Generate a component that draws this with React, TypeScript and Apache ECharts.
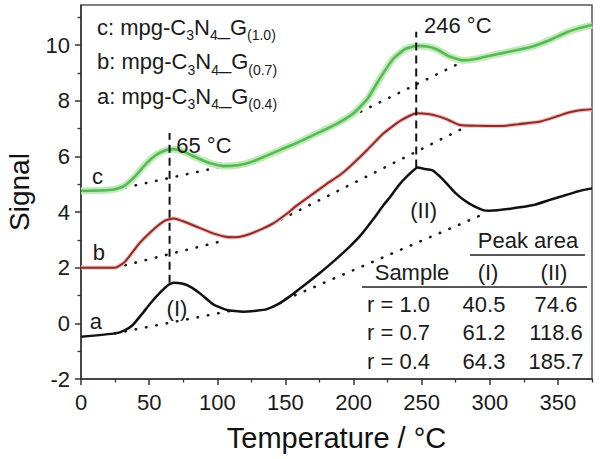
import { useEffect, useRef } from "react"
import * as echarts from "echarts"

const FONT = '"Liberation Sans", Arial, Helvetica, sans-serif'

// axis ticks
const xMajor = [0, 50, 100, 150, 200, 250, 300, 350]
const xMinor = [25, 75, 125, 175, 225, 275, 325, 375]
const yMajor = [-2, 0, 2, 4, 6, 8, 10]
const yMinor = [-1, 1, 3, 5, 7, 9, 11]

// curve a: mpg-C3N4-G(0.4)
const curveA: [number, number][] = [
  [0, -0.48], [25, -0.36], [32, -0.25], [38, -0.06], [45, 0.35], [51, 0.72], [58, 1.1],
  [64, 1.38], [68, 1.46], [74, 1.43], [80, 1.32], [88, 1.05], [97, 0.68], [107, 0.48],
  [119, 0.42], [130, 0.46], [136, 0.5], [145, 0.7], [153, 0.96], [161, 1.26], [175, 1.8],
  [187, 2.3], [197, 2.75], [205, 3.15], [214, 3.71], [222, 4.25], [227, 4.55], [233, 4.95],
  [239, 5.27], [247, 5.6], [252, 5.55], [258, 5.5], [265, 5.2], [275, 4.67], [285, 4.3],
  [295, 4.07], [300, 4.05], [315, 4.12], [332, 4.25], [345, 4.45], [356, 4.61], [365, 4.75],
  [375, 4.85],
]

// curve b: mpg-C3N4-G(0.7)
const curveB: [number, number][] = [
  [0, 2.0], [25, 2.0], [32, 2.2], [43, 2.88], [55, 3.45], [62, 3.7], [68, 3.77], [76, 3.65],
  [85, 3.47], [95, 3.27], [105, 3.12], [112, 3.09], [120, 3.15], [130, 3.33], [141, 3.59],
  [150, 3.9], [158, 4.22], [165, 4.47], [180, 5.0], [190, 5.33], [197, 5.62], [210, 6.23],
  [222, 6.83], [235, 7.3], [246, 7.55], [255, 7.52], [263, 7.43], [270, 7.3], [278, 7.13],
  [290, 7.1], [307, 7.09], [320, 7.15], [337, 7.25], [350, 7.45], [356, 7.55], [365, 7.65],
  [375, 7.69],
]

// curve c: mpg-C3N4-G(1.0)
const curveC: [number, number][] = [
  [0, 4.76], [10, 4.77], [20, 4.79], [25, 4.82], [32, 4.95], [40, 5.3], [48, 5.75], [55, 6.05],
  [62, 6.22], [68, 6.26], [75, 6.18], [85, 5.95], [95, 5.75], [105, 5.65], [115, 5.68],
  [125, 5.8], [135, 6.0], [147, 6.25], [160, 6.52], [175, 6.87], [188, 7.18], [200, 7.55],
  [210, 8.05], [220, 8.85], [229, 9.5], [238, 9.86], [246, 9.97], [254, 9.95], [261, 9.85],
  [270, 9.6], [280, 9.45], [290, 9.5], [300, 9.62], [310, 9.72], [320, 9.82], [332, 9.96],
  [345, 10.2], [356, 10.45], [365, 10.6], [375, 10.72],
]

// dotted baselines under the peaks
const baselines: [number, number][][] = [
  [[25, -0.36], [110, 0.45]],
  [[150, 0.86], [298, 3.98]],
  [[25, 2.0], [107, 3.0]],
  [[140, 3.57], [282, 7.05]],
  [[25, 4.8], [105, 5.65]],
  [[150, 6.28], [280, 9.4]],
]

// dashed peak markers
const peakMarkers: [number, number][][] = [
  [[65, 1.46], [65, 6.84]],
  [[246, 5.6], [246, 10.48]],
]

// text annotations [x, y, text]
const annotations: [number, number, string][] = [
  [90.2, 6.4, "65 °C"],
  [276.5, 10.72, "246 °C"],
  [70.4, 0.55, "(I)"],
  [251.5, 4.04, "(II)"],
  [12.1, 5.29, "c"],
  [13.2, 2.55, "b"],
  [11, 0.05, "a"],
]

// legend
const legendTags = ["c", "b", "a"]
const legendRatios = ["1.0", "0.7", "0.4"]

// table
const tableSamples = ["r = 1.0", "r = 0.7", "r = 0.4"]
const peakI = ["40.5", "61.2", "64.3"]
const peakII = ["74.6", "118.6", "185.7"]

export default function App() {
  const chartRef = useRef<HTMLDivElement>(null)

  useEffect(() => {
    if (!chartRef.current) return
    document.body.style.margin = "0"
    const chart = echarts.init(chartRef.current, null, { renderer: "svg" })

    const dotted = baselines.map((seg) => ({
      type: "line",
      data: seg,
      symbol: "none",
      silent: true,
      z: 1,
      lineStyle: { color: "#1a1a1a", width: 2.6, type: [0.5, 10], cap: "round" },
    }))

    const dashed = peakMarkers.map((seg) => ({
      type: "line",
      data: seg,
      symbol: "none",
      silent: true,
      z: 4,
      lineStyle: { color: "#111", width: 2, type: [8, 5] },
    }))

    const curve = (data: [number, number][], color: string, width: number, z: number) => ({
      type: "line",
      data,
      symbol: "none",
      smooth: 0.15,
      silent: true,
      z,
      lineStyle: { color, width, join: "round" },
    })

    const legendTexts = legendTags.map((tag, i) => ({
      type: "text",
      x: 97,
      y: 12 + i * 34.6,
      style: {
        text: `{m|${tag}: mpg-C}{s|3}{m|N}{s|4}{m|_G}{s|(${legendRatios[i]})}`,
        verticalAlign: "top",
        rich: {
          m: { fontSize: 22, fontFamily: FONT, fill: "#1a1a1a", lineHeight: 30 },
          s: { fontSize: 14, fontFamily: FONT, fill: "#1a1a1a", lineHeight: 14, verticalAlign: "bottom" },
        },
      },
    }))

    const cellStyle = { fontSize: 22, fontFamily: FONT, fill: "#1a1a1a", verticalAlign: "middle" }
    const tableTexts: any[] = [
      { type: "text", x: 528, y: 240, style: { ...cellStyle, text: "Peak area", align: "center" } },
      { type: "text", x: 412, y: 272, style: { ...cellStyle, text: "Sample", align: "center" } },
      { type: "text", x: 488, y: 272, style: { ...cellStyle, text: "(I)", align: "center" } },
      { type: "text", x: 554, y: 272, style: { ...cellStyle, text: "(II)", align: "center" } },
      { type: "line", shape: { x1: 470, y1: 255, x2: 585, y2: 255 }, style: { stroke: "#222", lineWidth: 1.6 } },
      { type: "line", shape: { x1: 362, y1: 287, x2: 587, y2: 287 }, style: { stroke: "#222", lineWidth: 1.6 } },
    ]
    tableSamples.forEach((s, i) => {
      const y = 304 + i * 28.5
      tableTexts.push(
        { type: "text", x: 367, y, style: { ...cellStyle, text: s, align: "left" } },
        { type: "text", x: 484, y, style: { ...cellStyle, text: peakI[i], align: "center" } },
        { type: "text", x: 556, y, style: { ...cellStyle, text: peakII[i], align: "center" } },
      )
    })

    const options: any = {
      animation: false,
      grid: {
        left: 81,
        right: 8,
        top: 5,
        bottom: 80,
        show: true,
        borderColor: "#555",
        borderWidth: 1.5,
        backgroundColor: "transparent",
        containLabel: false,
        outerBoundsMode: "none",
      },
      xAxis: [
        {
          type: "value",
          min: 0,
          max: 375,
          interval: 50,
          position: "bottom",
          name: "Temperature / °C",
          nameLocation: "middle",
          nameGap: 44,
          nameTextStyle: { fontSize: 29, color: "#111", fontFamily: FONT },
          axisLine: { onZero: false, lineStyle: { color: "#333", width: 1.5 } },
          axisTick: { length: 6, customValues: xMajor, lineStyle: { color: "#333", width: 1.5 } },
          axisLabel: { customValues: xMajor, fontSize: 22, color: "#1a1a1a", fontFamily: FONT, margin: 12 },
          splitLine: { show: false },
        },
        {
          type: "value",
          min: 0,
          max: 375,
          interval: 25,
          position: "bottom",
          axisLine: { show: false, onZero: false },
          axisTick: { length: 3.5, customValues: xMinor, lineStyle: { color: "#333", width: 1.3 } },
          axisLabel: { show: false },
          splitLine: { show: false },
        },
      ],
      yAxis: [
        {
          type: "value",
          min: -2,
          max: 11.44,
          interval: 2,
          position: "left",
          name: "Signal",
          nameLocation: "middle",
          nameGap: 48,
          nameTextStyle: { fontSize: 28, color: "#111", fontFamily: FONT },
          axisLine: { show: true, onZero: false, lineStyle: { color: "#333", width: 1.5 } },
          axisTick: { show: true, length: 6, customValues: yMajor, lineStyle: { color: "#333", width: 1.5 } },
          axisLabel: { customValues: yMajor, fontSize: 22, color: "#1a1a1a", fontFamily: FONT, margin: 11 },
          splitLine: { show: false },
        },
        {
          type: "value",
          min: -2,
          max: 11.44,
          interval: 1,
          position: "left",
          axisLine: { show: false, onZero: false },
          axisTick: { show: true, length: 3.5, customValues: yMinor, lineStyle: { color: "#333", width: 1.3 } },
          axisLabel: { show: false },
          splitLine: { show: false },
        },
      ],
      series: [
        ...dotted,
        curve(curveC, "#c2eab9", 7, 2),
        curve(curveC, "#55b955", 2.6, 3),
        curve(curveB, "#efc0bd", 4.2, 2),
        curve(curveB, "#8e2c29", 2, 3),
        curve(curveA, "#111", 2.5, 3),
        ...dashed,
        {
          type: "scatter",
          symbolSize: 0,
          silent: true,
          z: 5,
          itemStyle: { opacity: 1 },
          data: annotations.map(([x, y, t]) => ({ value: [x, y], name: t })),
          label: {
            show: true,
            position: "inside",
            formatter: "{b}",
            fontSize: 22,
            fontFamily: FONT,
            color: "#1a1a1a",
            opacity: 1,
          },
        },
      ],
      graphic: [...legendTexts, ...tableTexts],
    }

    chart.setOption(options)

    return () => {
      chart.dispose()
    }
  }, [])

  return <div ref={chartRef} style={{ width: 600, height: 459 }} />
}
